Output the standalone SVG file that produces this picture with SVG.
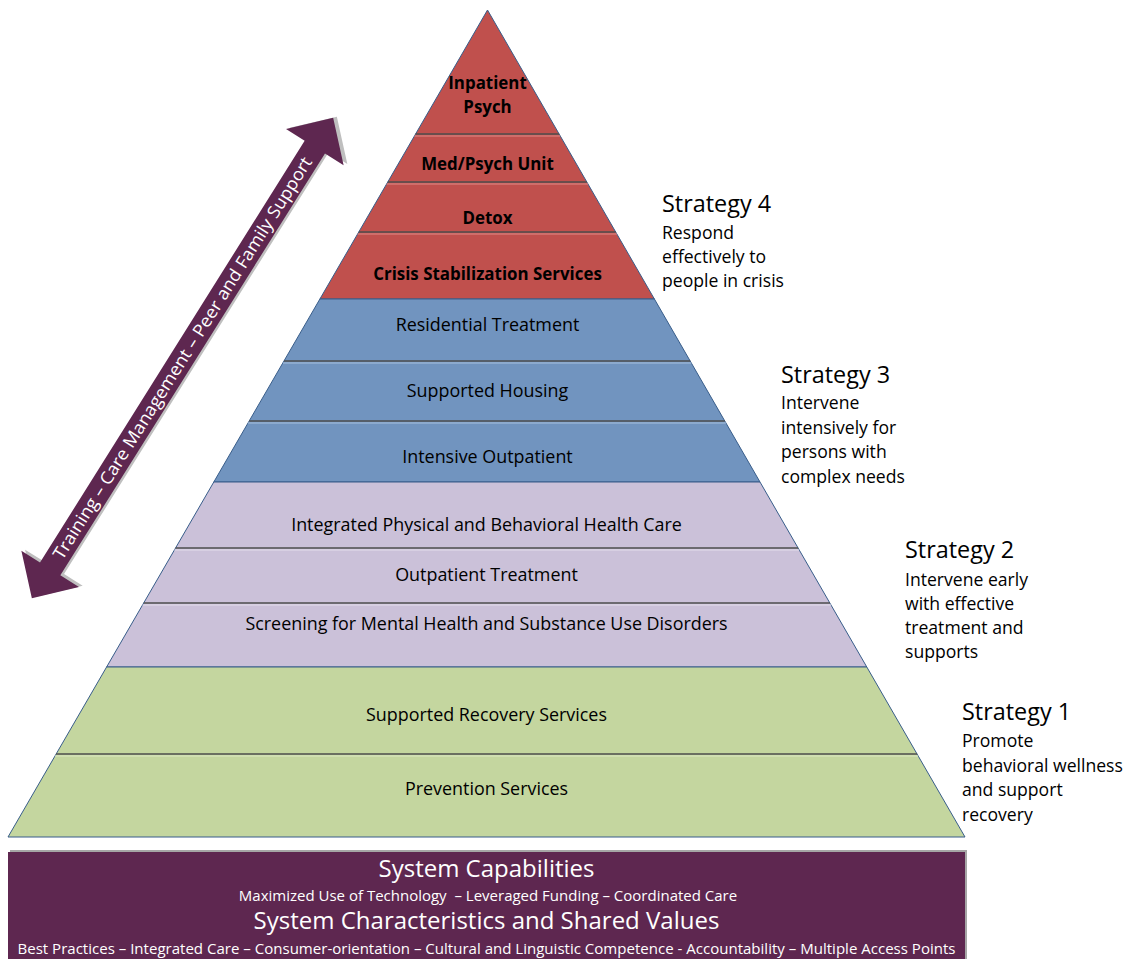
<svg xmlns="http://www.w3.org/2000/svg" width="1132" height="959" viewBox="0 0 1132 959">
  <style>
    .tier { stroke: #385D8A; stroke-width: 1; }
    .sep { stroke: #4D4D4D; stroke-width: 1.3; }
    .hl { stroke-width: 1.2; }
    .bold { font-family: "Open Sans", "Liberation Sans", sans-serif; font-weight: bold; font-size: 16.9px; fill: #000; text-anchor: middle; }
    .lbl { font-family: "Open Sans", "Liberation Sans", sans-serif; font-size: 17.9px; fill: #000; text-anchor: middle; }
    .sh { font-family: "Open Sans", "Liberation Sans", sans-serif; font-size: 23.4px; fill: #000; }
    .sb { font-family: "Open Sans", "Liberation Sans", sans-serif; font-size: 17.6px; fill: #000; }
    .bt { font-family: "Open Sans", "Liberation Sans", sans-serif; font-size: 24px; fill: #fff; text-anchor: middle; }
    .bs { font-family: "Open Sans", "Liberation Sans", sans-serif; font-size: 15px; fill: #fff; text-anchor: middle; }
    .at { font-family: "Open Sans", "Liberation Sans", sans-serif; font-size: 17.5px; fill: #fff; text-anchor: middle; }
  </style>
  <rect width="1132" height="959" fill="#fff"/>

  <g id="tier-crisis">
    <polygon class="tier" fill="#C0504D" points="487.5,10 654.4,299 319.9,299"/>
    <line class="sep" x1="415.6" y1="134" x2="559.1" y2="134"/>
    <line class="hl" stroke="#E08A88" x1="414.5" y1="136" x2="560.2" y2="136"/>
    <line class="sep" x1="387.8" y1="182" x2="586.8" y2="182"/>
    <line class="hl" stroke="#E08A88" x1="386.6" y1="184" x2="588" y2="184"/>
    <line class="sep" x1="358.8" y1="232" x2="615.7" y2="232"/>
    <line class="hl" stroke="#E08A88" x1="357.6" y1="234" x2="616.9" y2="234"/>
    <text class="bold" x="487.5" y="89">Inpatient</text>
    <text class="bold" x="487.5" y="113">Psych</text>
    <text class="bold" x="487.5" y="170">Med/Psych Unit</text>
    <text class="bold" x="487.5" y="224">Detox</text>
    <text class="bold" x="487.5" y="280">Crisis Stabilization Services</text>
  </g>

  <g id="tier-intensive">
    <polygon class="tier" fill="#7194BF" points="319.9,299 654.4,299 760,482 213.8,482"/>
    <line class="sep" x1="284" y1="361" x2="690.2" y2="361"/>
    <line class="hl" stroke="#A8C0DD" x1="282.8" y1="363" x2="691.4" y2="363"/>
    <line class="sep" x1="249.2" y1="421" x2="724.8" y2="421"/>
    <line class="hl" stroke="#A8C0DD" x1="248" y1="423" x2="726" y2="423"/>
    <text class="lbl" x="487.5" y="331">Residential Treatment</text>
    <text class="lbl" x="487.5" y="397">Supported Housing</text>
    <text class="lbl" x="487.5" y="463">Intensive Outpatient</text>
  </g>

  <g id="tier-early">
    <polygon class="tier" fill="#CBC1D9" points="213.8,482 760,482 866.8,667 106.6,667"/>
    <line class="sep" x1="175.6" y1="548" x2="798.1" y2="548"/>
    <line class="hl" stroke="#E4DDEC" x1="174.4" y1="550" x2="799.3" y2="550"/>
    <line class="sep" x1="143.7" y1="603" x2="829.9" y2="603"/>
    <line class="hl" stroke="#E4DDEC" x1="142.5" y1="605" x2="831.1" y2="605"/>
    <text class="lbl" x="486.5" y="531">Integrated Physical and Behavioral Health Care</text>
    <text class="lbl" x="486.5" y="581">Outpatient Treatment</text>
    <text class="lbl" x="486.5" y="630">Screening for Mental Health and Substance Use Disorders</text>
  </g>

  <g id="tier-wellness">
    <polygon class="tier" fill="#C4D69F" points="106.6,667 866.8,667 965,837 8,837"/>
    <line class="sep" x1="56.1" y1="754" x2="917.1" y2="754"/>
    <line class="hl" stroke="#DCE8C4" x1="54.9" y1="756" x2="918.3" y2="756"/>
    <text class="lbl" x="486.5" y="721">Supported Recovery Services</text>
    <text class="lbl" x="486.5" y="795">Prevention Services</text>
  </g>

  <g id="strategy-4">
    <text class="sh" x="662" y="212">Strategy 4</text>
    <text class="sb" x="662" y="239">Respond</text>
    <text class="sb" x="662" y="263">effectively to</text>
    <text class="sb" x="662" y="287">people in crisis</text>
  </g>
  <g id="strategy-3">
    <text class="sh" x="781" y="383">Strategy 3</text>
    <text class="sb" x="781" y="409">Intervene</text>
    <text class="sb" x="781" y="434">intensively for</text>
    <text class="sb" x="781" y="458">persons with</text>
    <text class="sb" x="781" y="483">complex needs</text>
  </g>
  <g id="strategy-2">
    <text class="sh" x="905" y="558">Strategy 2</text>
    <text class="sb" x="905" y="586">Intervene early</text>
    <text class="sb" x="905" y="610">with effective</text>
    <text class="sb" x="905" y="634">treatment and</text>
    <text class="sb" x="905" y="658">supports</text>
  </g>
  <g id="strategy-1">
    <text class="sh" x="962" y="720">Strategy 1</text>
    <text class="sb" x="962" y="747">Promote</text>
    <text class="sb" x="962" y="772">behavioral wellness</text>
    <text class="sb" x="962" y="796">and support</text>
    <text class="sb" x="962" y="821">recovery</text>
  </g>

  <g id="foundation">
    <rect x="10" y="850" width="957" height="112" fill="#A6A6A6"/>
    <rect x="8" y="852" width="957" height="110" fill="#5E2750"/>
    <text class="bt" x="486.5" y="877">System Capabilities</text>
    <text class="bs" x="488" y="901" xml:space="preserve">Maximized Use of Technology  – Leveraged Funding – Coordinated Care</text>
    <text class="bt" x="486.5" y="929">System Characteristics and Shared Values</text>
    <text class="bs" x="486.5" y="954" textLength="938" lengthAdjust="spacingAndGlyphs">Best Practices – Integrated Care – Consumer-orientation – Cultural and Linguistic Competence - Accountability – Multiple Access Points</text>
  </g>

  <g id="connectors">
    <g id="support-arrow" transform="translate(182.5,358) rotate(-57.9)">
      <path transform="translate(3,2.5)" fill="#BFBFBF" d="M -283.5,0 L -249,-34 L -249,-12 L 249,-12 L 249,-34 L 283.5,0 L 249,34 L 249,12 L -249,12 L -249,34 Z"/>
      <path fill="#5E2750" d="M -283.5,0 L -249,-34 L -249,-12 L 249,-12 L 249,-34 L 283.5,0 L 249,34 L 249,12 L -249,12 L -249,34 Z"/>
      <text class="at" x="0" y="6" textLength="471" lengthAdjust="spacingAndGlyphs">Training – Care Management – Peer and Family Support</text>
    </g>
  </g>
</svg>
